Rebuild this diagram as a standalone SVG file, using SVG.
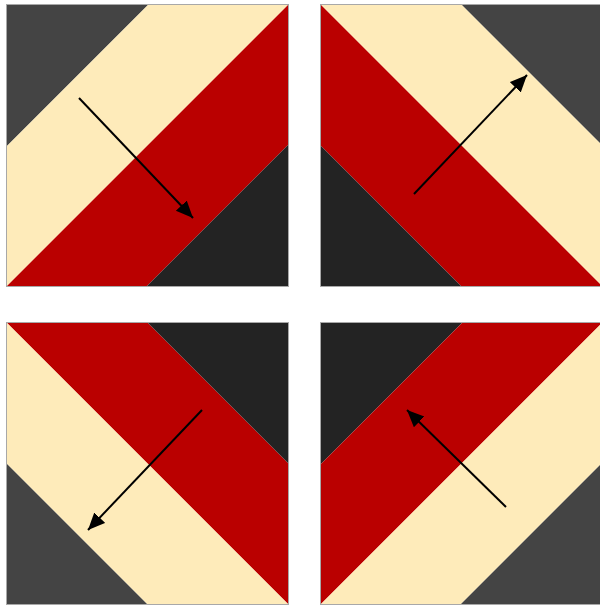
<svg xmlns="http://www.w3.org/2000/svg" width="600" height="609" viewBox="0 0 600 609">
<defs>
<style>
.c{fill:#FEEBBA}.r{fill:#BA0000}.d1{fill:#444444}.d2{fill:#232323}
.frame{fill:none;stroke:#A8A8A8;stroke-width:1}
.arrow{stroke:#000;stroke-width:2;fill:none;marker-end:url(#ah)}
</style>
<marker id="ah" markerUnits="userSpaceOnUse" markerWidth="18" markerHeight="16" refX="17" refY="7.5" orient="auto">
<path d="M0,0 L17,7.5 L0,15 z" fill="#000"/>
</marker>
</defs>
<rect width="600" height="609" fill="#fff"/>
<g id="square-tl" transform="translate(7,5)">
<rect class="frame" x="-0.5" y="-0.5" width="282" height="282"/>
<polygon class="d1" points="0,0 141,0 0,141"/>
<polygon class="c" points="141,0 281,0 0,281 0,141"/>
<polygon class="r" points="281,0 281,140 140,281 0,281"/>
<polygon class="d2" points="281,140 281,281 140,281"/>
</g>
<g id="square-tr" transform="translate(321,5)">
<rect class="frame" x="-0.5" y="-0.5" width="282" height="282"/>
<polygon class="c" points="0,0 141,0 281,140 281,281"/>
<polygon class="r" points="0,0 281,281 140,281 0,141"/>
<polygon class="d2" points="0,141 140,281 0,281"/>
<polygon class="d1" points="141,0 281,0 281,140"/>
</g>
<g id="square-bl" transform="translate(7,323)">
<rect class="frame" x="-0.5" y="-0.5" width="282" height="282"/>
<polygon class="r" points="0,0 141,0 281,140 281,281"/>
<polygon class="c" points="0,0 281,281 140,281 0,141"/>
<polygon class="d2" points="141,0 281,0 281,140"/>
<polygon class="d1" points="0,141 140,281 0,281"/>
</g>
<g id="square-br" transform="translate(321,323)">
<rect class="frame" x="-0.5" y="-0.5" width="282" height="282"/>
<polygon class="d2" points="0,0 141,0 0,141"/>
<polygon class="r" points="141,0 281,0 0,281 0,141"/>
<polygon class="c" points="281,0 281,140 140,281 0,281"/>
<polygon class="d1" points="281,140 281,281 140,281"/>
</g>
<g id="connectors">
<line class="arrow" x1="79" y1="98" x2="193" y2="218"/>
<line class="arrow" x1="414" y1="194" x2="527" y2="75"/>
<line class="arrow" x1="202" y1="410" x2="88" y2="530"/>
<line class="arrow" x1="506" y1="507" x2="407" y2="410"/>
</g>
</svg>
